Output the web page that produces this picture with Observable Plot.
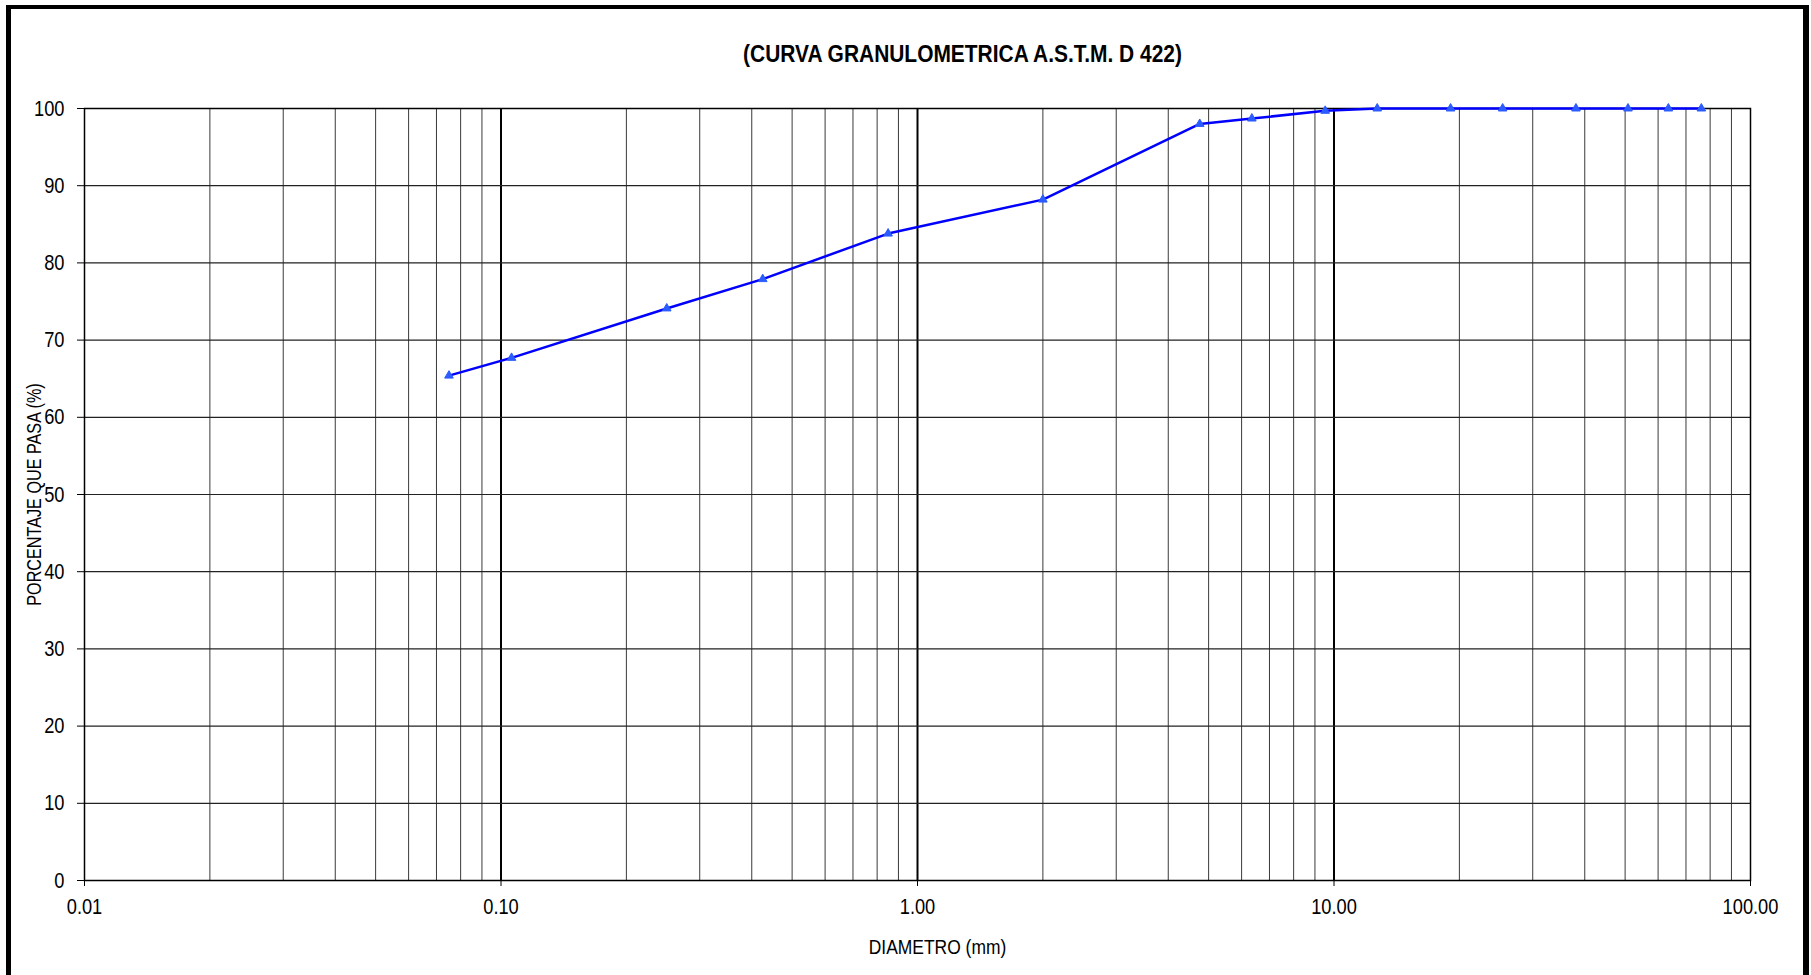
<!DOCTYPE html>
<html><head><meta charset="utf-8">
<script src="https://cdn.jsdelivr.net/npm/d3@7"></script>
<script src="https://cdn.jsdelivr.net/npm/@observablehq/plot@0.6"></script>
<style>
html,body{margin:0;padding:0;background:#fff;overflow:hidden;width:1811px;height:975px;position:relative;}
#frame{position:absolute;left:6px;top:5px;width:1792px;height:1000px;border-left:5px solid #000;border-top:4px solid #000;border-right:6px solid #000;}
#chart{position:absolute;left:0;top:0;}
</style></head><body>
<div id="frame"></div>
<div id="chart"></div>
<script>
// Sieve openings (mm) and percentage passing
const sieveSizes = [76.2, 63.5, 50.8, 38.1, 25.4, 19.05, 12.7, 9.525, 6.35, 4.76, 2.0, 0.85, 0.425, 0.25, 0.106, 0.075];
const percentPassing = [100, 100, 100, 100, 100, 100, 100, 99.7, 98.7, 98.0, 88.2, 83.8, 77.9, 74.1, 67.7, 65.4];
const xTicks = [0.01, 0.1, 1, 10, 100];
const yTicks = [0, 10, 20, 30, 40, 50, 60, 70, 80, 90, 100];
const decades = [0.01, 0.1, 1, 10];
const multipliers = [2, 3, 4, 5, 6, 7, 8, 9];
const majorX = [0.1, 1, 10];
const titleText = "(CURVA GRANULOMETRICA A.S.T.M. D 422)";
const xLabel = "DIAMETRO (mm)";
const yLabel = "PORCENTAJE QUE PASA (%)";

const data = sieveSizes.map((d, i) => ({d, p: percentPassing[i]}));
const minorX = decades.flatMap(dec => multipliers.map(m => +(dec * m).toPrecision(6)));

const FONT = "'Liberation Sans',Arial,sans-serif";

const chart = Plot.plot({
  width: 1811,
  height: 975,
  marginTop: 108,
  marginBottom: 95,
  marginLeft: 84,
  marginRight: 61,
  style: {fontFamily: FONT, fontSize: "22px", color: "#000", background: "transparent"},
  x: {type: "log", domain: [0.01, 100], label: null},
  y: {domain: [0, 100], label: null},
  marks: [
    Plot.ruleX(minorX, {stroke: "#3a3a3a", strokeWidth: 1}),
    Plot.ruleX(majorX, {stroke: "#000", strokeWidth: 2}),
    Plot.ruleY(yTicks.slice(1, -1), {stroke: "#222", strokeWidth: 1.2}),
    Plot.frame({stroke: "#000", strokeWidth: 1.5}),
    Plot.axisX({ticks: xTicks, tickFormat: d3.format(".2f"), tickSize: 6, tickPadding: 12, label: null, fontSize: 22}),
    Plot.axisY({ticks: yTicks, tickSize: 7, tickPadding: 13, label: null, fontSize: 22}),
    Plot.line(data, {x: "d", y: "p", stroke: "#0000ff", strokeWidth: 2.5}),
    Plot.dot(data, {x: "d", y: "p", symbol: "triangle", r: 3.2, fill: "#2b5cff", stroke: "#2b5cff", strokeWidth: 1}),
    Plot.text([titleText], {frameAnchor: "top", lineAnchor: "middle", textAnchor: "middle", dx: 45, dy: -54, fontWeight: "bold", fontSize: 23, fill: "#000"}),
    Plot.text([xLabel], {frameAnchor: "bottom", lineAnchor: "middle", textAnchor: "middle", dx: 20, dy: 67, fontSize: 21, fill: "#000"}),
    Plot.text([yLabel], {frameAnchor: "left", lineAnchor: "middle", textAnchor: "middle", dx: -50, rotate: -90, fontSize: 19.5, fill: "#000"})
  ]
});
document.getElementById("chart").appendChild(chart);

// Narrow (Arial Narrow-like) lettering
const NARROW = 0.83, TITLE_NARROW = 0.91;
chart.querySelectorAll("text").forEach(t => {
  const len = t.getComputedTextLength();
  if (len > 0) {
    const f = t.textContent === titleText ? TITLE_NARROW : NARROW;
    t.setAttribute("textLength", (len * f).toFixed(2));
    t.setAttribute("lengthAdjust", "spacingAndGlyphs");
  }
});
</script>
</body></html>
